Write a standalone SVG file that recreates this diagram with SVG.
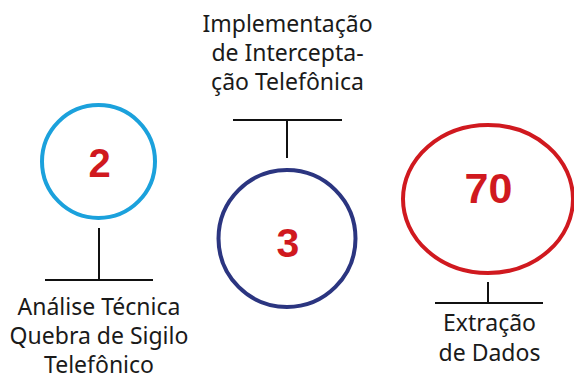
<svg xmlns="http://www.w3.org/2000/svg" width="574" height="376" viewBox="0 0 574 376">
<style>
.ring{fill:none;stroke-width:4}
.num{font-family:"Liberation Sans",Arial,sans-serif;font-weight:bold;fill:#d0191f;text-anchor:middle}
.lbl{font-family:"Noto Sans","Open Sans",sans-serif;font-size:23px;fill:#1a1a1a;text-anchor:middle}
.ln{stroke:#111;stroke-width:2;fill:none}
</style>
<rect width="574" height="376" fill="#fff"/>
<g id="connectors">
<path class="ln" d="M99 228V280M45 280H153"/>
<path class="ln" d="M287 120V158M233 120H342"/>
<path class="ln" d="M488 282V303M435 303H543"/>
</g>
<g id="node-2">
<circle class="ring" cx="98.5" cy="161.5" r="56.5" stroke="#1ba1dc"/>
<text class="num" x="99.5" y="177" font-size="40">2</text>
<text class="lbl" x="99" y="315">Análise Técnica</text>
<text class="lbl" x="99" y="344">Quebra de Sigilo</text>
<text class="lbl" x="99" y="373">Telefônico</text>
</g>
<g id="node-3">
<circle class="ring" cx="287" cy="238.5" r="68.5" stroke="#2b3580"/>
<text class="num" x="288" y="257" font-size="41">3</text>
<text class="lbl" x="287.5" y="32">Implementação</text>
<text class="lbl" x="287.5" y="61">de Intercepta-</text>
<text class="lbl" x="287.5" y="90">ção Telefônica</text>
</g>
<g id="node-70">
<ellipse class="ring" cx="488" cy="199" rx="85" ry="74" stroke="#d0191f"/>
<text class="num" x="488.5" y="203" font-size="43">70</text>
<text class="lbl" x="489.5" y="331">Extração</text>
<text class="lbl" x="489.5" y="361">de Dados</text>
</g>
</svg>
